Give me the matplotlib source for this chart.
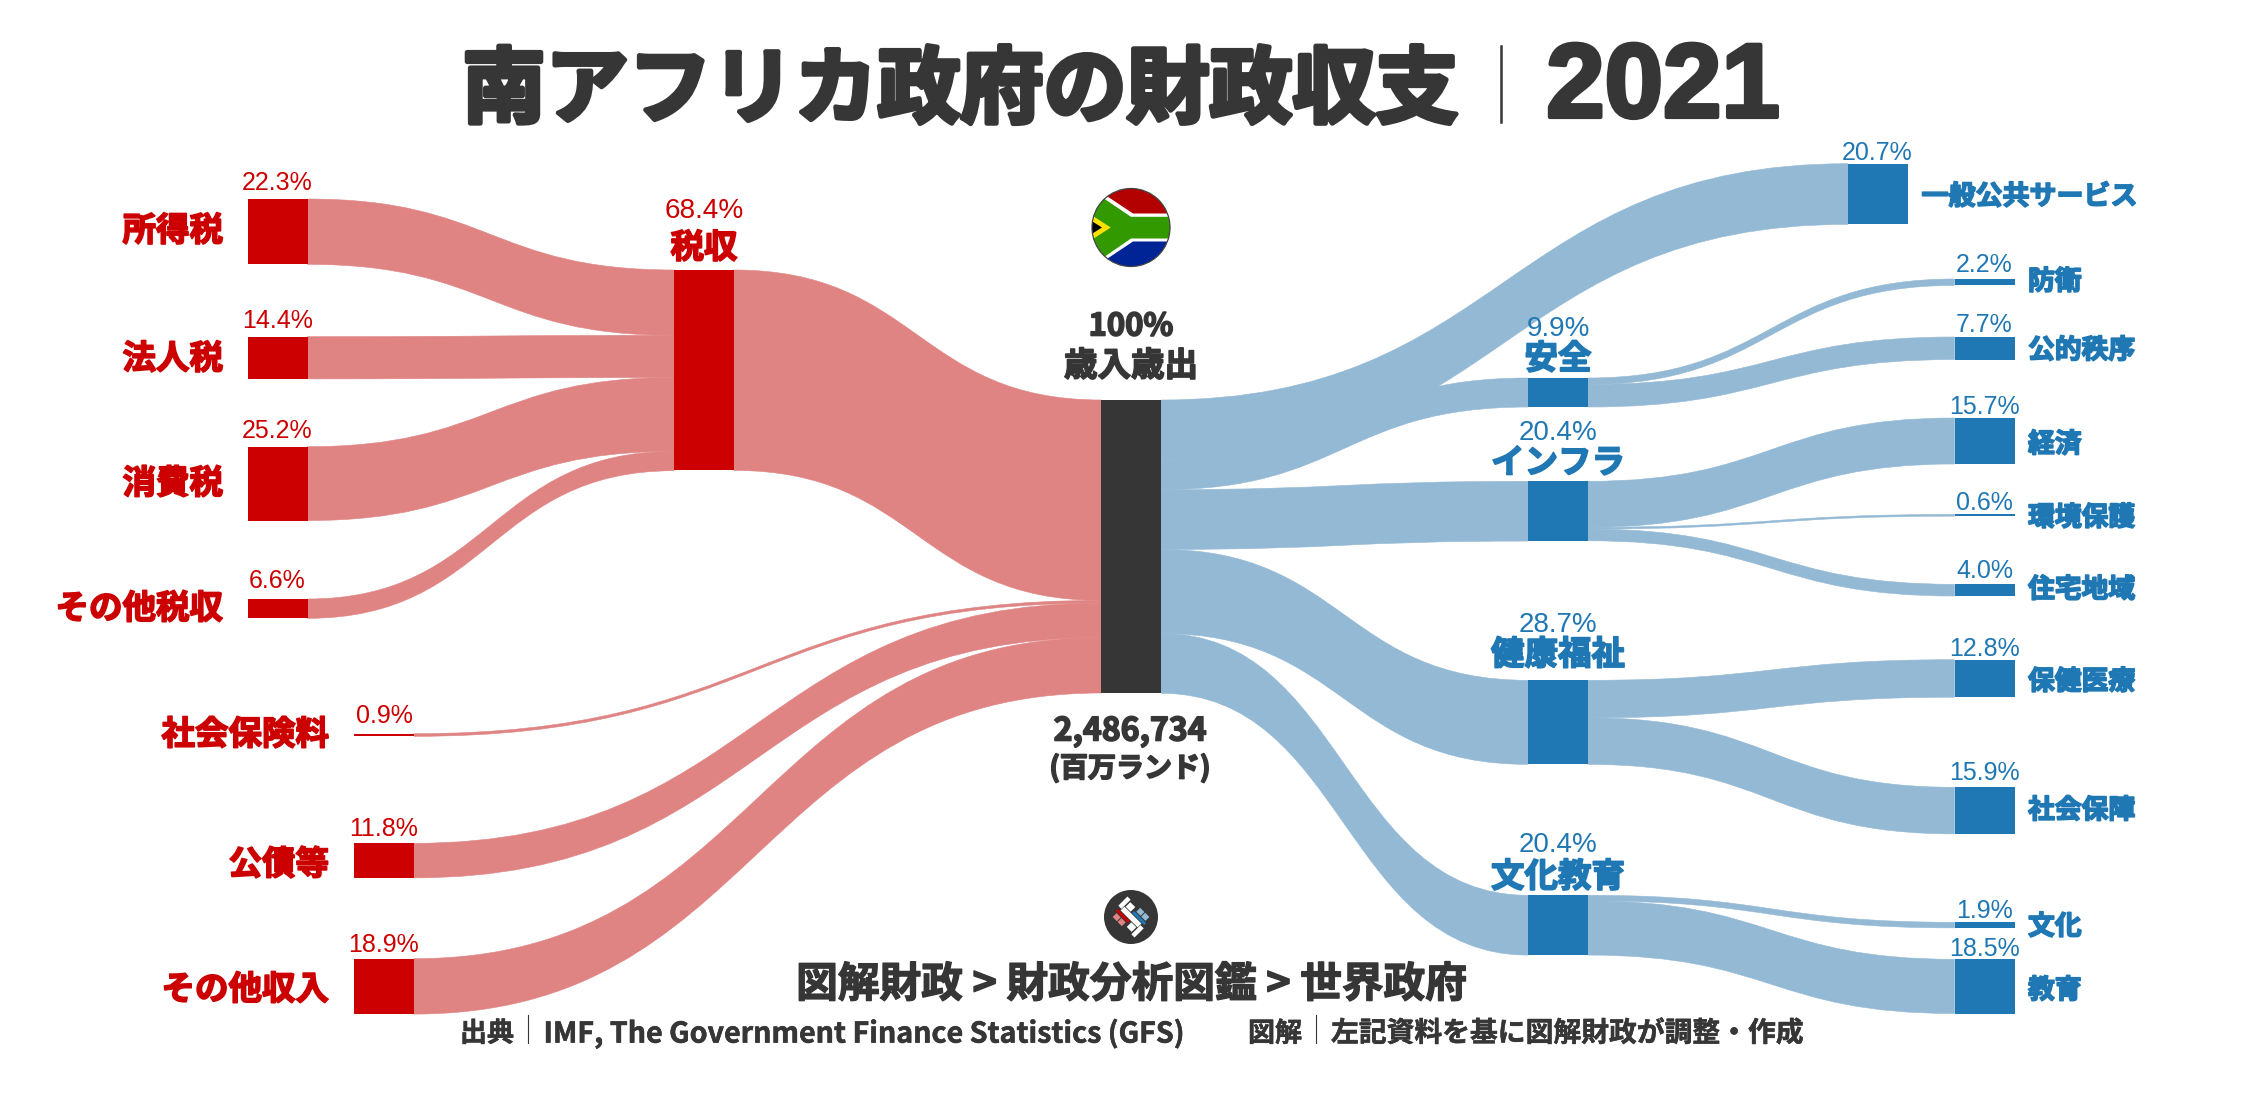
#!/usr/bin/env python3
"""South Africa government budget 2021 as a sankey, drawn with bezier ribbons."""
import math
import matplotlib
matplotlib.use("Agg")
import matplotlib.pyplot as plt
import matplotlib.patheffects as pe
from matplotlib.patches import Circle, PathPatch, Polygon, Rectangle
from matplotlib.path import Path

# values in % of total budget
total_value = 100
tax_names = ["所得税", "法人税", "消費税", "その他税収"]
tax_values = [22.3, 14.4, 25.2, 6.6]
tax_total = 68.4
other_rev_names = ["社会保険料", "公債等", "その他収入"]
other_rev_values = [0.9, 11.8, 18.9]
group_names = ["安全", "インフラ", "健康福祉", "文化教育"]
group_values = [9.9, 20.4, 28.7, 20.4]
general_value = 20.7
detail_names = ["防衛", "公的秩序", "経済", "環境保護", "住宅地域", "保健医療", "社会保障", "文化", "教育"]
detail_values = [2.2, 7.7, 15.7, 0.6, 4.0, 12.8, 15.9, 1.9, 18.5]
total_amount = "2,486,734"

RED, RED_L = "#CC0000", "#E08383"
BLUE, BLUE_L = "#1F77B4", "#93B9D5"
INK = "#363636"
JP = "Noto Sans CJK JP"
PCT = "Liberation Sans"
PX = 0.72  # px to pt at dpi 100
SCALE = 2.93  # px per %
W = 60
DY = 3.5  # va=center sits a bit high for these fonts

# layout: left edge of every column, top of every node (px)
X_TAX, X_SUM, X_OTHER, X_MID, X_GROUP, X_GEN, X_DET = 247.5, 674, 354, 1101, 1528, 1848, 1954.5
tax_tops = [199, 336.7, 446.7, 599]
other_tops = [733.7, 843.3, 958.7]
group_tops = [378, 481.3, 680.3, 895.3]
detail_tops = [279, 337, 418, 514.4, 584.3, 659.7, 787.3, 922.3, 959.3]

fig = plt.figure(figsize=(22.47, 10.96), dpi=100)
ax = fig.add_axes([0, 0, 1, 1])
ax.set_xlim(0, 2247)
ax.set_ylim(1096, 0)
ax.axis("off")

nodes = {}


def add_node(name, x, top, value, color):
    nodes[name] = dict(x=x, top=top, value=value, color=color, out=top, inn=top)


for n, t, v in zip(tax_names, tax_tops, tax_values):
    add_node(n, X_TAX, t, v, RED)
add_node("税収", X_SUM, 270, tax_total, RED)
for n, t, v in zip(other_rev_names, other_tops, other_rev_values):
    add_node(n, X_OTHER, t, v, RED)
add_node("歳入歳出", X_MID, 400, total_value, INK)
add_node("一般公共サービス", X_GEN, 163.7, general_value, BLUE)
for n, t, v in zip(group_names, group_tops, group_values):
    add_node(n, X_GROUP, t, v, BLUE)
for n, t, v in zip(detail_names, detail_tops, detail_values):
    add_node(n, X_DET, t, v, BLUE)

links = [(n, "税収", RED_L) for n in tax_names]
links.append(("税収", "歳入歳出", RED_L))
links += [(n, "歳入歳出", RED_L) for n in other_rev_names]
links += [("歳入歳出", n, BLUE_L) for n in ["一般公共サービス"] + group_names]
links += [("安全", "防衛", BLUE_L), ("安全", "公的秩序", BLUE_L),
          ("インフラ", "経済", BLUE_L), ("インフラ", "環境保護", BLUE_L), ("インフラ", "住宅地域", BLUE_L),
          ("健康福祉", "保健医療", BLUE_L), ("健康福祉", "社会保障", BLUE_L),
          ("文化教育", "文化", BLUE_L), ("文化教育", "教育", BLUE_L)]

for src, dst, col in links:
    s, d = nodes[src], nodes[dst]
    # the thinner end decides the ribbon height
    h = min(s["value"], d["value"]) * SCALE
    x0, x1 = s["x"] + W, d["x"]
    y0, y1 = s["out"], d["inn"]
    xm = (x0 + x1) / 2
    verts = [(x0, y0), (xm, y0), (xm, y1), (x1, y1),
             (x1, y1 + h), (xm, y1 + h), (xm, y0 + h), (x0, y0 + h), (x0, y0)]
    codes = [Path.MOVETO, Path.CURVE4, Path.CURVE4, Path.CURVE4,
             Path.LINETO, Path.CURVE4, Path.CURVE4, Path.CURVE4, Path.CLOSEPOLY]
    ax.add_patch(PathPatch(Path(verts, codes), fc=col, ec=col, lw=0.4, zorder=1))
    s["out"] += h
    d["inn"] += h

for n in nodes.values():
    ax.add_patch(Rectangle((n["x"], n["top"]), W, n["value"] * SCALE, fc=n["color"], ec="none", zorder=2))


def label(x, y, s, px, color, ha="center", stroke=1.2, family=JP):
    t = ax.text(x, y + DY, s, fontsize=px * PX, color=color, ha=ha, va="center", family=family, weight="bold", zorder=4)
    if stroke:
        t.set_path_effects([pe.withStroke(linewidth=stroke, foreground=color)])
    return t


def pct(x, y, value, px, color):
    ax.text(x, y + DY, f"{value:.1f}%", fontsize=px * PX, color=color, ha="center", va="center", family=PCT, zorder=4)


# title
label(960.5, 88, "南アフリカ政府の財政収支", 83, INK, stroke=3.5)
label(1663, 86, "2021", 105, INK, stroke=3, family=PCT)
ax.plot([1500.5, 1500.5], [46, 122], color=INK, lw=1.8, zorder=4)

# left labels
for n, y, py in zip(tax_names, [228, 356, 480.7, 605.7], [179, 317.7, 427.7, 577.7]):
    label(223, y, n, 33.5, RED, ha="right")
    pct(277.5, py, nodes[n]["value"], 25, RED)
for n, y, py in zip(other_rev_names, [731.7, 861.7, 986.7], [712.7, 825.7, 941.7]):
    label(329, y, n, 33.5, RED, ha="right")
    pct(384, py, nodes[n]["value"], 25, RED)
label(704, 245, "税収", 33.5, RED)
pct(704, 208, tax_total, 28, RED)

# centre
label(1131, 323, "100%", 31, INK)
label(1131, 363, "歳入歳出", 33.5, INK)
label(1130, 728, total_amount, 32, INK)
label(1130, 765, "(百万ランド)", 28, INK)

# right labels
for n, y, py in zip(group_names, [356, 460, 651.7, 874], [325, 429, 621.7, 842]):
    label(1558, y, n, 33.5, BLUE)
    pct(1558, py, nodes[n]["value"], 27.7, BLUE)
det_y = [278, 346.7, 440.7, 514, 586, 678, 806.7, 923, 986.7]
det_py = [262, 322, 404, 500, 567, 645.7, 769, 907, 945.7]
for n, y, py in zip(detail_names, det_y, det_py):
    label(2028, y, n, 26.8, BLUE, ha="left")
    pct(1984.5, py, nodes[n]["value"], 25, BLUE)
label(1921.5, 193, "一般公共サービス", 27, BLUE, ha="left")
pct(1877, 150, general_value, 25, BLUE)

# flag
fx, fy, fr = 1131, 227.5, 39
clip = Circle((fx, fy), fr, transform=ax.transData)
flag = [("#FFFFFF", [(-45, -45), (45, -45), (45, 45), (-45, 45)]),
        ("#B30000", [(-40, -42), (2, -14), (45, -14), (45, -45), (-40, -45)]),
        ("#002395", [(-40, 42), (2, 14), (45, 14), (45, 45), (-40, 45)]),
        ("#339900", [(-45, -41), (0, -10.7), (45, -10.7), (45, 11), (0, 11), (-45, 42)]),
        ("#FFE000", [(-45, -16), (-20.3, 0), (-45, 16)]),
        ("#000000", [(-45, -10), (-29, 0), (-45, 10)])]
for col, pts in flag:
    p = Polygon([(fx + a, fy + b) for a, b in pts], fc=col, ec="none", zorder=3)
    ax.add_patch(p)
    p.set_clip_path(clip)
ax.add_patch(Circle((fx, fy), fr, fc="none", ec="#444444", lw=0.9, zorder=3))

# logo: dark disc, lattice rotated by 45 degrees (u along "\", v along "/")
lx, ly = 1131, 917
ax.add_patch(Circle((lx, ly), 27, fc=INK, ec="none", zorder=3))
logo_cells = [("white", -12, 12, -2.7, 2.7),
              (BLUE, -2, 15, 3.5, 6.5), (BLUE_L, 0, 6, 7.5, 13), (BLUE_L, 7, 13, 7.5, 13),
              (RED, -15, 2, -6.5, -3.5), (RED_L, -13, -7, -13, -7.5), (RED_L, -6, 0, -13, -7.5),
              ("white", -17, -12.5, -1, 12), ("white", -11, -4, 3.5, 10),
              ("white", 12.5, 17, -12, 1), ("white", 4, 11, -10, -3.5)]
r2 = math.sqrt(2)
for col, u0, u1, v0, v1 in logo_cells:
    pts = [(lx + (u + v) / r2, ly + (u - v) / r2) for u, v in [(u0, v0), (u1, v0), (u1, v1), (u0, v1)]]
    ax.add_patch(Polygon(pts, fc=col, ec="none", zorder=3))

# footer
label(1132, 981.5, "図解財政 > 財政分析図鑑 > 世界政府", 41.7, INK, stroke=1)
label(487, 1030, "出典", 27, INK, stroke=0.4)
ax.plot([528, 528], [1015, 1043], color=INK, lw=0.8, zorder=4)
label(543.5, 1030, "IMF, The Government Finance Statistics (GFS)", 28.6, INK, ha="left", stroke=0.4)
label(1275, 1030, "図解", 27, INK, stroke=0.4)
ax.plot([1316, 1316], [1015, 1043], color=INK, lw=0.8, zorder=4)
label(1331, 1030, "左記資料を基に図解財政が調整・作成", 27.8, INK, ha="left", stroke=0.4)

fig.savefig("out.png", dpi=100, facecolor="white")
